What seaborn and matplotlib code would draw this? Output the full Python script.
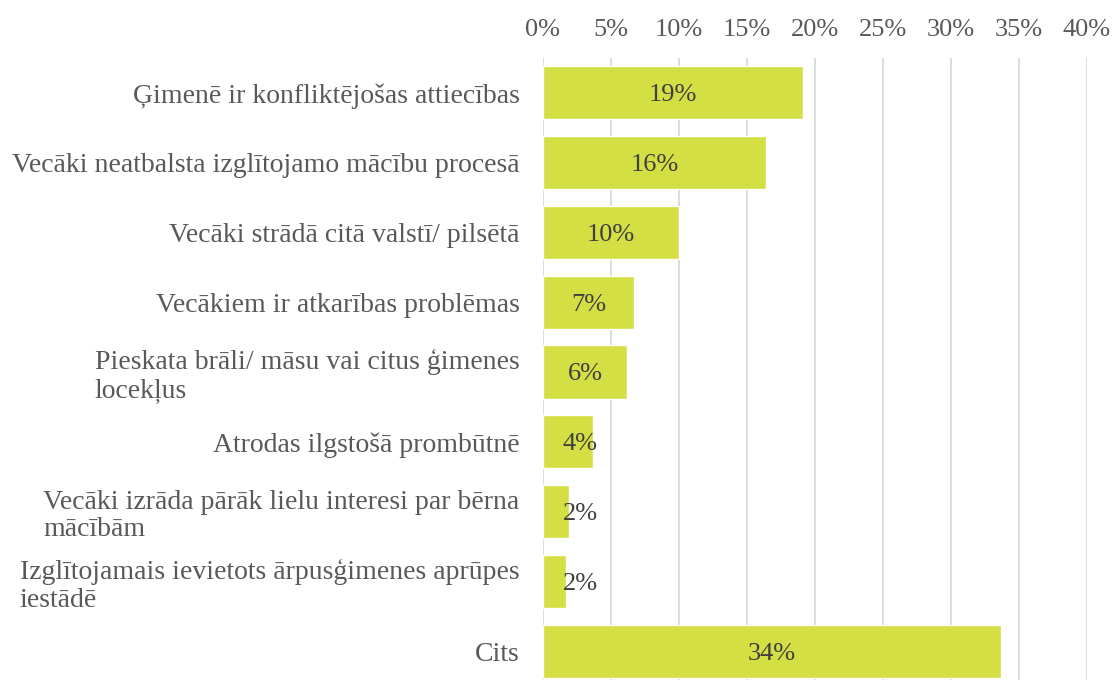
import matplotlib
matplotlib.use("Agg")
import matplotlib.pyplot as plt
import seaborn as sns
import pandas as pd
from matplotlib.ticker import MultipleLocator, FuncFormatter

categories = [
    "Ģimenē ir konfliktējošas attiecības",
    "Vecāki neatbalsta izglītojamo mācību procesā",
    "Vecāki strādā citā valstī/ pilsētā",
    "Vecākiem ir atkarības problēmas",
    "Pieskata brāli/ māsu vai citus ģimenes\nlocekļus",
    "Atrodas ilgstošā prombūtnē",
    "Vecāki izrāda pārāk lielu interesi par bērna\nmācībām",
    "Izglītojamais ievietots ārpusģimenes aprūpes\niestādē",
    "Cits",
]
values = [19.1, 16.4, 10.0, 6.7, 6.2, 3.7, 1.9, 1.7, 33.7]
labels = ["19%", "16%", "10%", "7%", "6%", "4%", "2%", "2%", "34%"]

sns.set_style("white")
plt.rcParams["font.family"] = ["Liberation Serif", "DejaVu Serif"]

df = pd.DataFrame({"cat": categories, "val": values})

fig = plt.figure(figsize=(11.13, 6.8), dpi=100)
ax = fig.add_axes([543/1113, 1 - 686/680, 544/1113, 628/680])
sns.barplot(data=df, y="cat", x="val", color="#D4DF44", saturation=1,
            width=0.76, ax=ax, zorder=2)

ax.set_xlim(0, 40)
ax.set_ylim(8.5, -0.5)
ax.xaxis.set_major_locator(MultipleLocator(5))
ax.xaxis.set_major_formatter(FuncFormatter(lambda v, p: f"{int(v)}%"))
ax.xaxis.tick_top()
ax.grid(axis="x", color="#D9D9D9", linewidth=1.3, zorder=0)
ax.set_axisbelow(True)
for s in ax.spines.values():
    s.set_visible(False)
ax.set_xlabel("")
ax.set_ylabel("")
ax.tick_params(axis="x", length=0, pad=12, labelsize=19, labelcolor="#595959")
ax.tick_params(axis="y", length=0, pad=17, labelsize=20, labelcolor="#595959")
for t in ax.get_yticklabels():
    t.set_multialignment("left")
    t.set_linespacing(1.15)

for i, (v, lab) in enumerate(zip(values, labels)):
    x = max(v / 2, 2.75)
    ax.text(x, i, lab, ha="center", va="center_baseline", fontsize=19,
            color="#404040", zorder=3)

fig.savefig("out.png", dpi=100)
